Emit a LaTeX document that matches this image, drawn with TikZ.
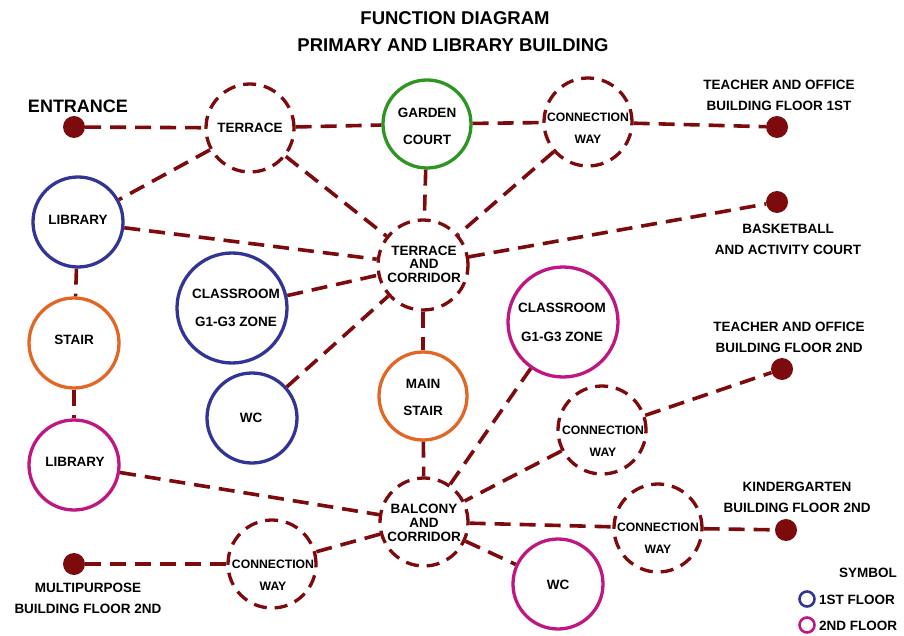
\documentclass[tikz,border=0pt]{standalone}
\usepackage{fontspec}
\setmainfont{Liberation Sans}
\definecolor{maroon}{RGB}{125,10,12}
\definecolor{fblue}{RGB}{52,52,150}
\definecolor{fmag}{RGB}{192,22,130}
\definecolor{forange}{RGB}{226,102,36}
\definecolor{fgreen}{RGB}{44,150,32}
\begin{document}
\begin{tikzpicture}[x=1pt,y=-1pt,
  ring/.style={circle,draw=#1,line width=3.3pt,fill=white,minimum size=90pt,inner sep=0pt},
  dring/.style={circle,draw=maroon,line width=3.3pt,dash pattern=on 13pt off 8pt,fill=white,minimum size=88pt,inner sep=0pt},
  dot/.style={circle,fill=maroon,minimum size=22pt,inner sep=0pt},
  conn/.style={draw=maroon,line width=3.6pt,dash pattern=on 16pt off 9pt},
  txt/.style={align=center,inner sep=0pt,font=\fontsize{13.5}{#1}\selectfont\bfseries},
  ctxt/.style={align=center,inner sep=0pt,font=\fontsize{12.2}{#1}\selectfont\bfseries},
  lab/.style={align=center,inner sep=0pt,font=\fontsize{13.5}{21}\selectfont\bfseries},
  legring/.style={circle,draw=#1,line width=2.6pt,minimum size=15pt,inner sep=0pt}
]
\path[use as bounding box] (0,0) rectangle (904,636);

% title
\node[font=\fontsize{18.5}{20}\selectfont\bfseries] (title1) at (455,18) {FUNCTION DIAGRAM};
\node[font=\fontsize{18.5}{20}\selectfont\bfseries] (title2) at (453,45) {PRIMARY AND LIBRARY BUILDING};

% circles
\node[dring] (terrace) at (250,128) {};
\node[ring=fgreen,minimum size=88pt] (garden) at (427,124) {};
\node[dring] (cwtop) at (588,122) {};
\node[ring=fblue] (lib1) at (78,222) {};
\node[dring,minimum size=90pt] (tc) at (423,265) {};
\node[ring=fblue,minimum size=110pt] (cls1) at (232,308) {};
\node[ring=forange] (stair) at (74,343) {};
\node[ring=fblue] (wc1) at (252,418) {};
\node[ring=forange,minimum size=88pt] (mstair) at (423,396) {};
\node[ring=fmag,minimum size=110pt] (cls2) at (563,322) {};
\node[dring] (cwmid) at (602,430) {};
\node[ring=fmag] (lib2) at (74,465) {};
\node[dring] (balc) at (424,522) {};
\node[dring] (cwlr) at (658,528) {};
\node[dring] (cwbl) at (272,564) {};
\node[ring=fmag] (wc2) at (558,584) {};

% dots
\node[dot] (ent) at (74,127) {};
\node[dot] (tob1) at (777,127) {};
\node[dot] (bask) at (777,202) {};
\node[dot] (tob2) at (782,369) {};
\node[dot] (kind) at (786,530) {};
\node[dot] (multi) at (74,564) {};

% circle texts
\node[txt=15] (t-terrace) at (250,128) {TERRACE};
\node[txt=27] (t-garden) at (427,126) {GARDEN\\COURT};
\node[ctxt=22] (t-cwtop) at (588,128) {CONNECTION\\WAY};
\node[txt=15] (t-lib1) at (78,220) {LIBRARY};
\node[txt=13.5] (t-tc) at (424,264) {TERRACE\\AND\\CORRIDOR};
\node[txt=28] (t-cls1) at (236,308) {CLASSROOM\\G1-G3 ZONE};
\node[txt=15] (t-stair) at (74,340) {STAIR};
\node[txt=15] (t-wc1) at (251,418) {WC};
\node[txt=27] (t-mstair) at (423,397) {MAIN\\STAIR};
\node[txt=29] (t-cls2) at (562,322) {CLASSROOM\\G1-G3 ZONE};
\node[ctxt=22] (t-cwmid) at (603,441) {CONNECTION\\WAY};
\node[txt=15] (t-lib2) at (75,462) {LIBRARY};
\node[txt=14] (t-balc) at (424,523) {BALCONY\\AND\\CORRIDOR};
\node[ctxt=22] (t-cwlr) at (658,538) {CONNECTION\\WAY};
\node[ctxt=22] (t-cwbl) at (273,575) {CONNECTION\\WAY};
\node[txt=15] (t-wc2) at (558,585) {WC};

% outside labels
\node[font=\fontsize{18}{20}\selectfont\bfseries] (t-ent) at (78,106) {ENTRANCE};
\node[lab] (t-tob1) at (779,95) {TEACHER AND OFFICE\\BUILDING FLOOR 1ST};
\node[lab] (t-bask) at (788,239) {BASKETBALL\\AND ACTIVITY COURT};
\node[lab] (t-tob2) at (789,337) {TEACHER AND OFFICE\\BUILDING FLOOR 2ND};
\node[lab] (t-kind) at (797,497) {KINDERGARTEN\\BUILDING FLOOR 2ND};
\node[lab] (t-multi) at (88,598) {MULTIPURPOSE\\BUILDING FLOOR 2ND};

% legend
\node[font=\fontsize{13.5}{15}\selectfont\bfseries] (t-sym) at (868,573) {SYMBOL};
\node[legring=fblue] (leg1) at (807,599) {};
\node[legring=fmag] (leg2) at (807,625) {};
\node[font=\fontsize{13.5}{15}\selectfont\bfseries,anchor=west,inner sep=0pt] (t-leg1) at (819,600) {1ST FLOOR};
\node[font=\fontsize{13.5}{15}\selectfont\bfseries,anchor=west,inner sep=0pt] (t-leg2) at (819,626) {2ND FLOOR};

% connectors
\draw[conn] (ent) -- (terrace);
\draw[conn] (terrace) -- (garden);
\draw[conn] (garden) -- (cwtop);
\draw[conn] (cwtop) -- (tob1);
\draw[conn] (terrace) -- (lib1);
\draw[conn] (terrace) -- (tc);
\draw[conn] (garden) -- (tc);
\draw[conn] (cwtop) -- (tc);
\draw[conn] (lib1) -- (tc);
\draw[conn] (tc) -- (bask);
\draw[conn] (cls1) -- (tc);
\draw[conn] (wc1) -- (tc);
\draw[conn] (tc) -- (mstair);
\draw[conn] (lib1) -- (stair);
\draw[conn] (stair) -- (lib2);
\draw[conn] (lib2) -- (balc);
\draw[conn] (mstair) -- (balc);
\draw[conn] (cls2) -- (balc);
\draw[conn] (cwmid) -- (balc);
\draw[conn] (cwmid) -- (tob2);
\draw[conn] (balc) -- (cwlr);
\draw[conn] (cwlr) -- (kind);
\draw[conn] (balc) -- (wc2);
\draw[conn] (balc) -- (cwbl);
\draw[conn] (cwbl) -- (multi);
\end{tikzpicture}
\end{document}
